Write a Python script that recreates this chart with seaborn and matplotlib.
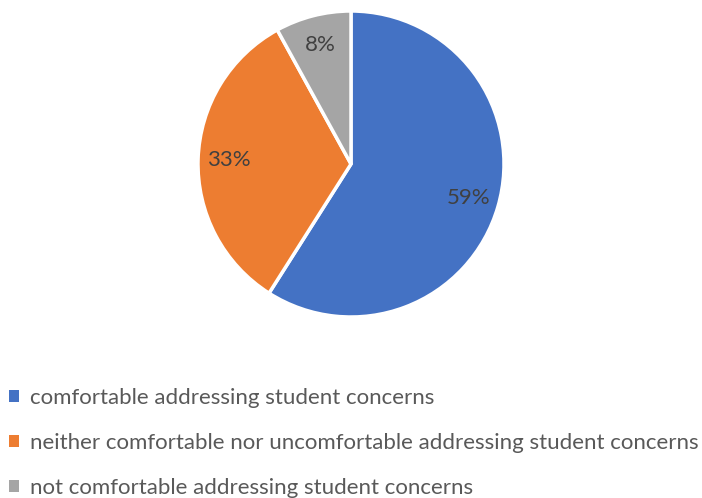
import matplotlib
matplotlib.use("Agg")
import matplotlib.pyplot as plt
import seaborn as sns
from matplotlib.patches import Patch

# data
labels = [
    "comfortable addressing student concerns",
    "neither comfortable nor uncomfortable addressing student concerns",
    "not comfortable addressing student concerns",
]
shares = [59, 33, 8]
colors = ["#4472C4", "#ED7D31", "#A5A5A5"]

sns.set_theme(style="white")
plt.rcParams["font.family"] = ["Lato", "DejaVu Sans"]

W, H = 702, 498
fig = plt.figure(figsize=(W / 100, H / 100), dpi=100, facecolor="white")

cx, cy, r = 351, 164, 153
ax = fig.add_axes([(cx - r) / W, (H - cy - r) / H, 2 * r / W, 2 * r / H])

wedges, texts, autotexts = ax.pie(
    shares,
    colors=colors,
    startangle=90,
    counterclock=False,
    autopct=lambda p: f"{round(p)}%",
    pctdistance=0.8,
    wedgeprops=dict(edgecolor="white", linewidth=2.5),
    textprops=dict(color="#404040", fontsize=16),
)
ax.set_xlim(-1, 1)
ax.set_ylim(-1, 1)
ax.set_aspect("equal")

handles = [Patch(facecolor=c, edgecolor="none") for c in colors]
fig.legend(
    handles, labels,
    loc="upper left",
    bbox_to_anchor=(0 / W, 1 - 379 / H),
    frameon=False,
    fontsize=16,
    labelcolor="#595959",
    handlelength=0.45,
    handleheight=0.45,
    handletextpad=0.5,
    labelspacing=1.13,
    borderaxespad=0,
)

fig.savefig("out.png", dpi=100, facecolor="white")
